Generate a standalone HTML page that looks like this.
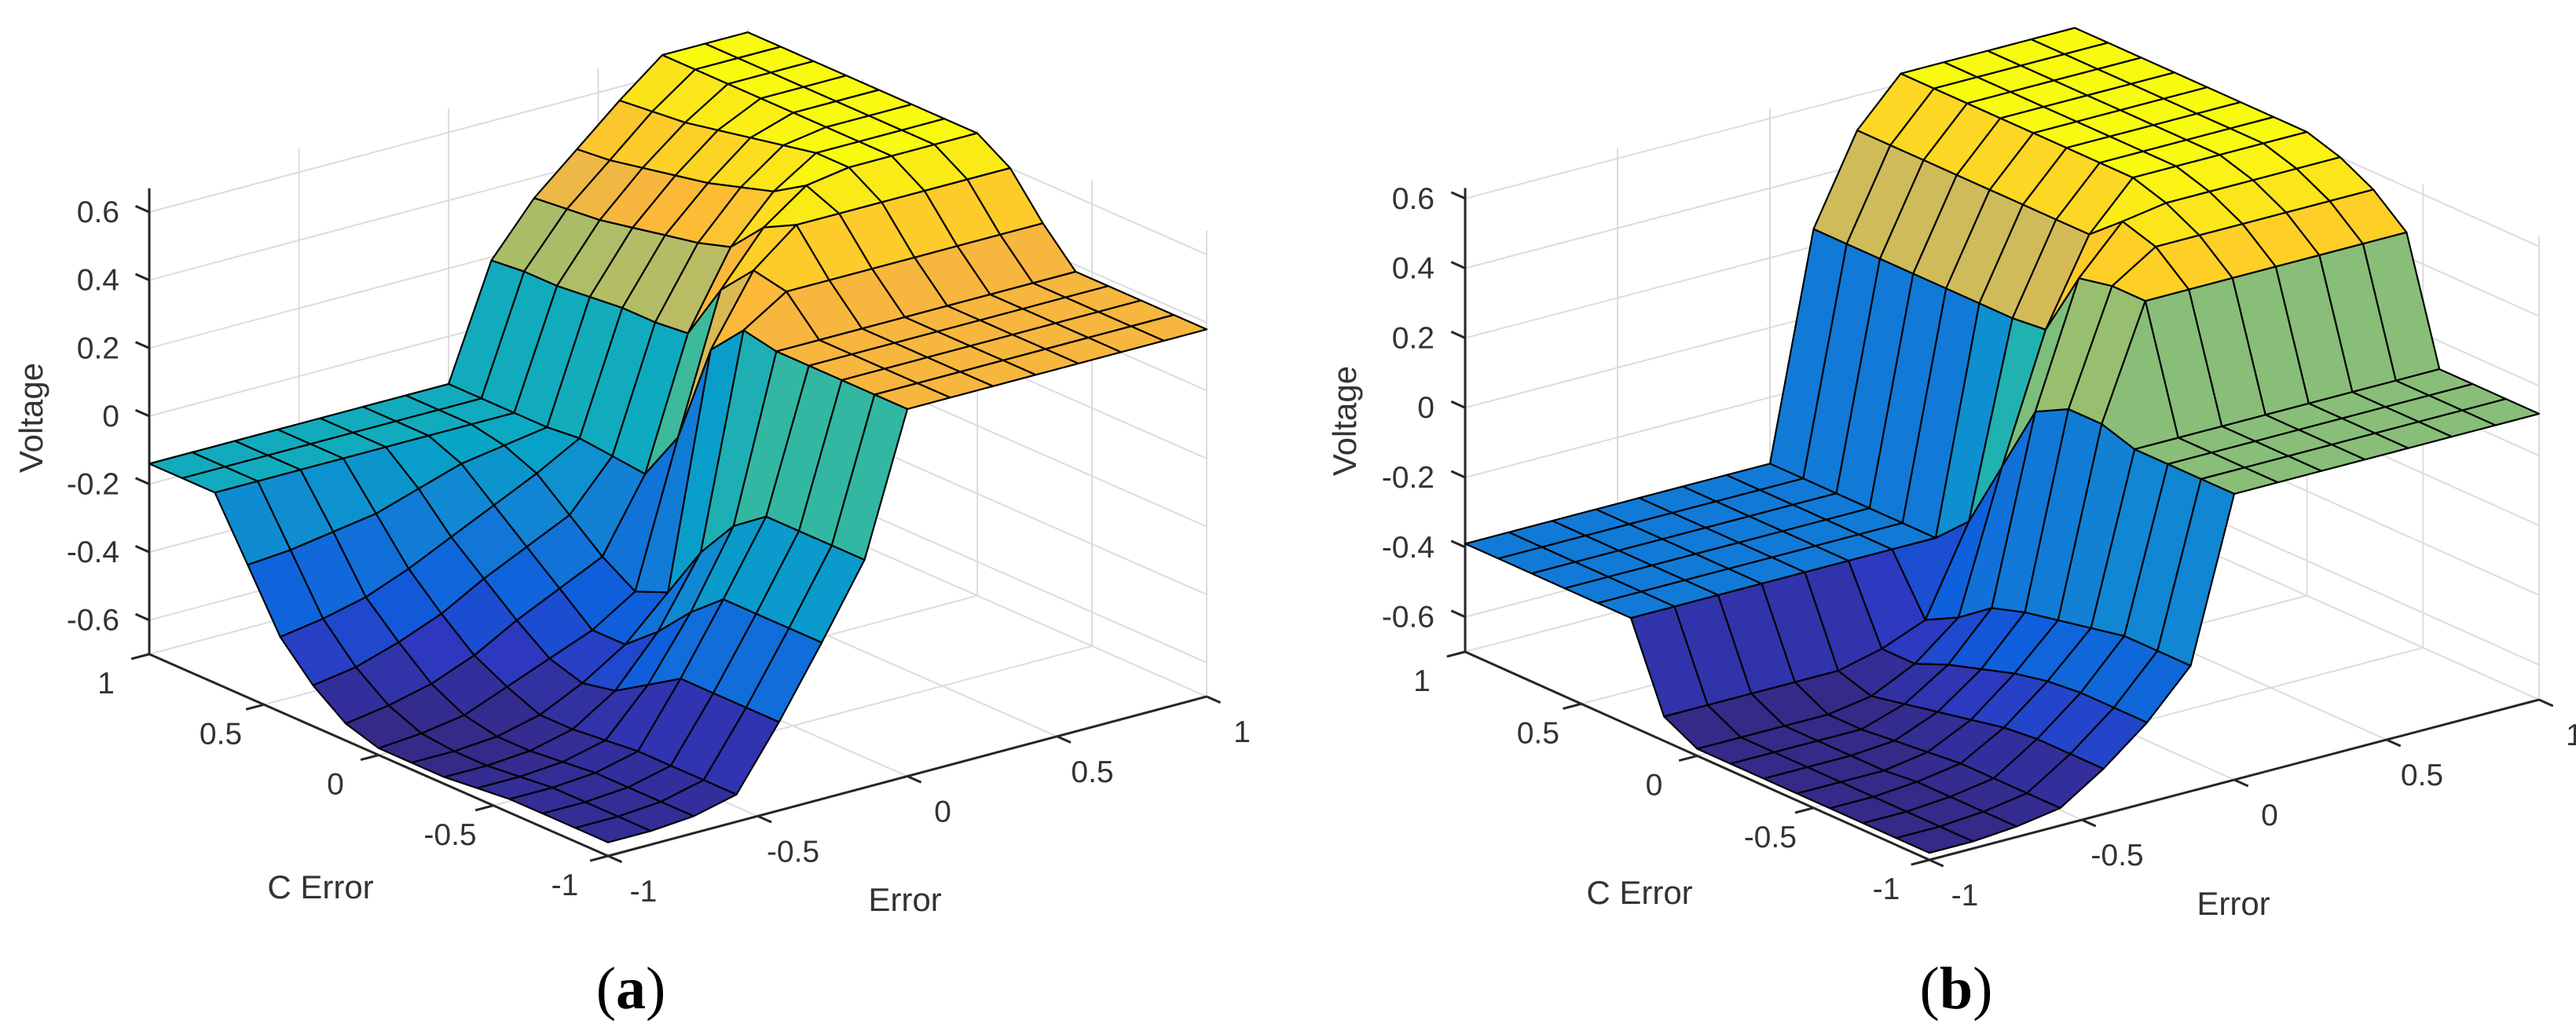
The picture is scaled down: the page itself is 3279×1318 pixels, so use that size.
<!DOCTYPE html>
<html><head><meta charset="utf-8">
<style>
html,body{margin:0;padding:0;background:#fff;}
svg{display:block;}
text{font-family:"Liberation Sans",sans-serif;fill:#333;}
</style></head>
<body>
<svg id="fig" width="3279" height="1318" viewBox="0 0 3279 1318" xmlns="http://www.w3.org/2000/svg">
<g id="panelA"></g>
<g id="panelB"></g>
<text x="803" y="1284" font-size="76" text-anchor="middle" style="font-family:'Liberation Serif',serif;fill:#000">(<tspan font-weight="bold">a</tspan>)</text>
<text x="2490" y="1284" font-size="76" text-anchor="middle" style="font-family:'Liberation Serif',serif;fill:#000">(<tspan font-weight="bold">b</tspan>)</text>
</svg>
<script>
// grid coordinates (15 x 15)
const errorValues = [-1,-0.857,-0.714,-0.571,-0.429,-0.286,-0.143,0,0.143,0.286,0.429,0.571,0.714,0.857,1];
const cErrorValues = [-1,-0.857,-0.714,-0.571,-0.429,-0.286,-0.143,0,0.143,0.286,0.429,0.571,0.714,0.857,1];
const zTicks = [-0.6,-0.4,-0.2,0,0.2,0.4,0.6];
const zTickLabels = ["-0.6","-0.4","-0.2","0","0.2","0.4","0.6"];
const xyTicks = [-1,-0.5,0,0.5,1];
const xyTickLabels = ["-1","-0.5","0","0.5","1"];
// panel (a) voltage rows, one row per C Error value (rows: C Error -1 .. 1, cols: Error -1 .. 1)
const voltageA = [
[-0.66,-0.66,-0.65,-0.62,-0.44,-0.24,-0.03,0.38,0.38,0.38,0.38,0.38,0.38,0.38,0.38],
[-0.66,-0.66,-0.65,-0.62,-0.44,-0.24,-0.03,0.38,0.38,0.38,0.38,0.38,0.38,0.38,0.38],
[-0.66,-0.66,-0.65,-0.62,-0.44,-0.24,-0.03,0.38,0.38,0.38,0.38,0.38,0.38,0.38,0.38],
[-0.66,-0.66,-0.65,-0.62,-0.44,-0.24,-0.03,0.38,0.38,0.38,0.38,0.38,0.38,0.38,0.38],
[-0.67,-0.67,-0.66,-0.63,-0.50,-0.32,-0.10,0.38,0.38,0.38,0.38,0.38,0.38,0.38,0.38],
[-0.68,-0.68,-0.67,-0.64,-0.56,-0.42,-0.22,0.40,0.48,0.48,0.48,0.48,0.48,0.48,0.48],
[-0.68,-0.68,-0.67,-0.64,-0.58,-0.50,-0.38,0.30,0.50,0.60,0.60,0.60,0.60,0.60,0.60],
[-0.68,-0.67,-0.65,-0.60,-0.55,-0.50,-0.42,0.00,0.40,0.55,0.64,0.66,0.66,0.66,0.66],
[-0.65,-0.63,-0.60,-0.55,-0.48,-0.42,-0.36,-0.15,0.23,0.45,0.58,0.66,0.66,0.66,0.66],
[-0.58,-0.56,-0.52,-0.47,-0.40,-0.34,-0.28,-0.14,0.22,0.42,0.55,0.64,0.66,0.66,0.66],
[-0.48,-0.46,-0.43,-0.38,-0.32,-0.26,-0.20,-0.13,0.22,0.40,0.52,0.62,0.66,0.66,0.66],
[-0.31,-0.30,-0.28,-0.26,-0.22,-0.18,-0.16,-0.14,0.21,0.38,0.50,0.60,0.66,0.66,0.66],
[-0.14,-0.14,-0.14,-0.14,-0.14,-0.14,-0.14,-0.14,0.20,0.36,0.48,0.58,0.66,0.66,0.66],
[-0.14,-0.14,-0.14,-0.14,-0.14,-0.14,-0.14,-0.14,0.20,0.35,0.46,0.57,0.66,0.66,0.66],
[-0.14,-0.14,-0.14,-0.14,-0.14,-0.14,-0.14,-0.14,0.19,0.34,0.45,0.56,0.66,0.66,0.66]
];
// panel (b) voltage rows
const voltageB = [
[-0.68,-0.68,-0.67,-0.65,-0.57,-0.47,-0.34,0.12,0.12,0.12,0.12,0.12,0.12,0.12,0.12],
[-0.68,-0.68,-0.67,-0.65,-0.57,-0.47,-0.34,0.12,0.12,0.12,0.12,0.12,0.12,0.12,0.12],
[-0.68,-0.68,-0.67,-0.65,-0.57,-0.47,-0.34,0.12,0.12,0.12,0.12,0.12,0.12,0.12,0.12],
[-0.68,-0.68,-0.67,-0.65,-0.58,-0.48,-0.36,0.12,0.12,0.12,0.12,0.12,0.12,0.12,0.12],
[-0.68,-0.68,-0.68,-0.66,-0.60,-0.50,-0.38,0.15,0.47,0.47,0.47,0.47,0.47,0.47,0.47],
[-0.68,-0.68,-0.68,-0.67,-0.62,-0.53,-0.40,0.15,0.47,0.55,0.55,0.55,0.55,0.55,0.55],
[-0.68,-0.68,-0.68,-0.68,-0.64,-0.56,-0.43,0.10,0.45,0.58,0.60,0.60,0.60,0.60,0.60],
[-0.68,-0.68,-0.68,-0.68,-0.66,-0.60,-0.50,-0.10,0.26,0.50,0.63,0.63,0.63,0.63,0.63],
[-0.63,-0.63,-0.63,-0.63,-0.63,-0.60,-0.55,-0.30,0.25,0.50,0.63,0.63,0.63,0.63,0.63],
[-0.39,-0.39,-0.39,-0.39,-0.39,-0.39,-0.39,-0.39,0.25,0.50,0.63,0.63,0.63,0.63,0.63],
[-0.39,-0.39,-0.39,-0.39,-0.39,-0.39,-0.39,-0.39,0.25,0.50,0.63,0.63,0.63,0.63,0.63],
[-0.39,-0.39,-0.39,-0.39,-0.39,-0.39,-0.39,-0.39,0.25,0.50,0.63,0.63,0.63,0.63,0.63],
[-0.39,-0.39,-0.39,-0.39,-0.39,-0.39,-0.39,-0.39,0.25,0.50,0.63,0.63,0.63,0.63,0.63],
[-0.39,-0.39,-0.39,-0.39,-0.39,-0.39,-0.39,-0.39,0.25,0.50,0.63,0.63,0.63,0.63,0.63],
[-0.39,-0.39,-0.39,-0.39,-0.39,-0.39,-0.39,-0.39,0.25,0.50,0.63,0.63,0.63,0.63,0.63]
];

const NS = "http://www.w3.org/2000/svg";
const parula = [[0,[53,42,135]],[0.06,[46,56,190]],[0.125,[15,92,221]],[0.25,[18,131,212]],[0.375,[6,167,198]],[0.5,[56,185,158]],[0.625,[146,191,115]],[0.72,[214,186,86]],[0.8,[251,182,58]],[0.875,[253,206,40]],[1,[249,251,14]]];
function cmap(t){
  t=Math.max(0,Math.min(1,t));
  for(let k=1;k<parula.length;k++){
    if(t<=parula[k][0]){
      const a=parula[k-1],b=parula[k],f=(t-a[0])/(b[0]-a[0]);
      const c=a[1].map((v,i)=>Math.round(v+(b[1][i]-v)*f));
      return "rgb("+c.join(",")+")";
    }
  }
  return "rgb(249,251,14)";
}
function mk(tag,attrs,parent){
  const el=document.createElementNS(NS,tag);
  for(const k in attrs) el.setAttribute(k,attrs[k]);
  parent.appendChild(el);
  return el;
}

function drawPanel(g,Z,cfg){
  const ex=(cfg.right[0]-cfg.front[0])/2, ey=(cfg.right[1]-cfg.front[1])/2;
  const cx=(cfg.left[0]-cfg.front[0])/2, cy=(cfg.left[1]-cfg.front[1])/2;
  const zy=cfg.zy;
  function P(E,C,z){
    return [cfg.front[0]+(E+1)*ex+(C+1)*cx, cfg.front[1]+(E+1)*ey+(C+1)*cy+(z-cfg.zmin)*zy];
  }
  const b=-ex/cx, c=-(ey+b*cy)/zy;
  function depth(E,C,z){return E+b*C+c*z;}
  const line=(p,q,col,w,name)=>{
    const l=mk("line",{x1:p[0].toFixed(1),y1:p[1].toFixed(1),x2:q[0].toFixed(1),y2:q[1].toFixed(1),stroke:col,"stroke-width":w},g);
    
    
  };
  const GC="#dcdcdc", zmin=cfg.zmin, zmax=cfg.zmax;
  xyTicks.forEach(t=>{
    line(P(t,-1,zmin),P(t,1,zmin),GC,2,"floor-grid-line");
    line(P(-1,t,zmin),P(1,t,zmin),GC,2,"floor-grid-line");
  });
  xyTicks.forEach(t=>{
    line(P(t,1,zmin),P(t,1,zmax),GC,2,"back-wall-grid-line");
    line(P(1,t,zmin),P(1,t,zmax),GC,2,"side-wall-grid-line");
  });
  zTicks.forEach(z=>{
    line(P(-1,1,z),P(1,1,z),GC,2,"back-wall-grid-line");
    line(P(1,1,z),P(1,-1,z),GC,2,"side-wall-grid-line");
  });
  const AC="#262626";
  line(P(-1,1,zmin),P(-1,1,zmax),AC,3,"z-axis-line");
  line(P(-1,-1,zmin),P(-1,1,zmin),AC,3,"c-error-axis-line");
  line(P(-1,-1,zmin),P(1,-1,zmin),AC,3,"error-axis-line");
  const tl=0.06;
  zTicks.forEach((z,k)=>{
    line(P(-1,1,z),P(-1,1+tl,z),AC,3,"z-tick");
    const p=P(-1,1,z);
    const t=mk("text",{x:(cfg.zLabelX).toFixed(1),y:(p[1]+13).toFixed(1),"font-size":39,"text-anchor":"end"},g);
    t.textContent=zTickLabels[k];
    
    
  });
  xyTicks.forEach((v,k)=>{
    line(P(-1,v,zmin),P(-1-tl,v,zmin),AC,3,"c-error-tick");
    line(P(v,-1,zmin),P(v,-1-tl,zmin),AC,3,"error-tick");
    const pc=P(-1,v,zmin);
    const t1=mk("text",{x:(pc[0]-55).toFixed(1),y:(pc[1]+50).toFixed(1),"font-size":39,"text-anchor":"middle"},g);
    t1.textContent=xyTickLabels[k];
    
    
    const pe=P(v,-1,zmin);
    const t2=mk("text",{x:(pe[0]+45).toFixed(1),y:(pe[1]+58).toFixed(1),"font-size":39,"text-anchor":"middle"},g);
    t2.textContent=xyTickLabels[k];
    
    
  });
  const tc=mk("text",{x:cfg.ceTitle[0],y:cfg.ceTitle[1],"font-size":42,"text-anchor":"middle"},g);
  tc.textContent="C Error";
  
  
  const te=mk("text",{x:cfg.eTitle[0],y:cfg.eTitle[1],"font-size":42,"text-anchor":"middle"},g);
  te.textContent="Error";
  
  
  const tv=mk("text",{x:0,y:0,"font-size":42,"text-anchor":"middle",transform:"translate("+cfg.vTitle[0]+","+cfg.vTitle[1]+") rotate(-90)"},g);
  tv.textContent="Voltage";
  
  
  let zlo=Infinity,zhi=-Infinity;
  Z.forEach(r=>r.forEach(v=>{zlo=Math.min(zlo,v);zhi=Math.max(zhi,v);}));
  const faces=[];
  for(let i=0;i<cErrorValues.length-1;i++){
    for(let j=0;j<errorValues.length-1;j++){
      const cs=[[i,j],[i,j+1],[i+1,j+1],[i+1,j]];
      let d=0;
      const pts=cs.map(([a,bb])=>{
        d+=depth(errorValues[bb],cErrorValues[a],Z[a][bb]);
        return P(errorValues[bb],cErrorValues[a],Z[a][bb]);
      });
      faces.push({pts,d,col:cmap((Z[i][j]-zlo)/(zhi-zlo))});
    }
  }
  faces.sort((p,q)=>q.d-p.d);
  faces.forEach(f=>{
    const poly=mk("polygon",{points:f.pts.map(p=>p[0].toFixed(1)+","+p[1].toFixed(1)).join(" "),fill:f.col,stroke:"#000","stroke-width":2.2,"stroke-linejoin":"round"},g);
    
    
  });
}

drawPanel(document.getElementById("panelA"),voltageA,{
  left:[190,833],front:[774,1090],right:[1536,887],zy:-433,zmin:-0.70,zmax:0.67,
  zLabelX:152,ceTitle:[408,1144],eTitle:[1152,1160],vTitle:[54,532]
});
drawPanel(document.getElementById("panelB"),voltageB,{
  left:[1865,830],front:[2456,1095],right:[3232,891],zy:-444,zmin:-0.70,zmax:0.63,
  zLabelX:1826,ceTitle:[2087,1151],eTitle:[2843,1165],vTitle:[1726,536]
});
</script>
</body></html>
